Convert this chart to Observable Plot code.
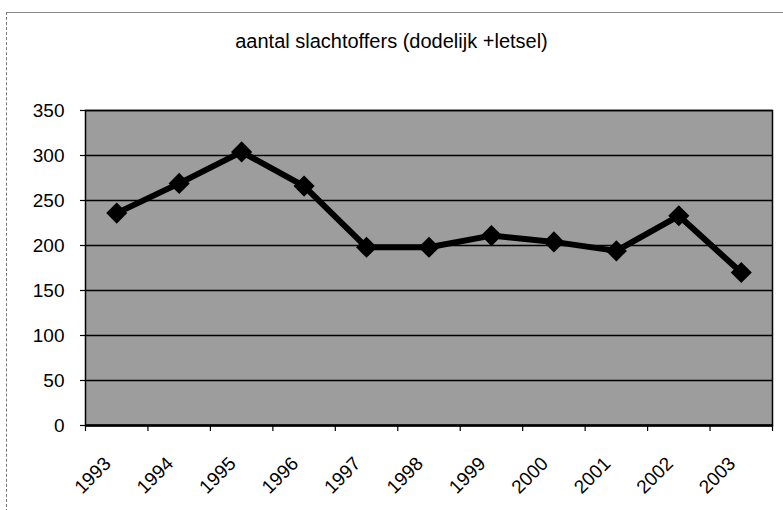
<!DOCTYPE html>
<html>
<head>
<meta charset="utf-8">
<script src="https://cdn.jsdelivr.net/npm/d3@7"></script>
<script src="https://cdn.jsdelivr.net/npm/@observablehq/plot@0.6"></script>
<style>
  html, body { margin: 0; padding: 0; background: #fff; }
  #wrap { position: relative; width: 783px; height: 510px; overflow: hidden; font-family: "Liberation Sans", Arial, sans-serif; }
  #border { position: absolute; left: 6px; top: 12px; right: 0; bottom: -2px; border-top: 1px solid #8a8a8a; border-left: 1px dashed #777; }
  #title { position: absolute; top: 30px; left: 0; width: 783px; text-align: center; font-size: 20px; color: #000; }
  #chart { position: absolute; top: 75px; left: 0; }
</style>
</head>
<body>
<div id="wrap">
  <div id="border"></div>
  <div id="title">aantal slachtoffers (dodelijk +letsel)</div>
  <div id="chart"></div>
</div>
<script>
const years = [1993, 1994, 1995, 1996, 1997, 1998, 1999, 2000, 2001, 2002, 2003];
const victims = [236, 269, 304, 266, 198, 198, 211, 204, 194, 233, 170];
const yTicks = [0, 50, 100, 150, 200, 250, 300, 350];
const bandEdges = [1992.5, 1993.5, 1994.5, 1995.5, 1996.5, 1997.5, 1998.5, 1999.5, 2000.5, 2001.5, 2002.5, 2003.5];

const data = years.map((year, i) => ({year, value: victims[i]}));

const chart = Plot.plot({
  width: 783,
  height: 435,
  marginTop: 35,
  marginBottom: 85,
  marginLeft: 85,
  marginRight: 11,
  style: {fontFamily: "'Liberation Sans', Arial, sans-serif", fontSize: "19px", color: "#000", background: "transparent", overflow: "visible"},
  x: {domain: [1992.5, 2003.5]},
  y: {domain: [0, 350]},
  marks: [
    Plot.frame({fill: "#9d9d9d"}),
    Plot.ruleY(yTicks, {stroke: "#000", strokeWidth: 1.3}),
    Plot.frame({stroke: "#000", strokeWidth: 1.5}),
    Plot.ruleY([0], {stroke: "#000", strokeWidth: 2.5}),
    Plot.axisY({ticks: yTicks, tickSize: 5, tickPadding: 16, label: null, tickFormat: d => String(d), strokeWidth: 1.2}),
    Plot.axisX({ticks: bandEdges, tickSize: 6, tickFormat: () => "", label: null, strokeWidth: 1.2}),
    Plot.axisX({ticks: years, tickSize: 0, tickPadding: 32, dx: -9, dy: 3, tickRotate: -45, tickFormat: d => String(d), label: null}),
    Plot.line(data, {x: "year", y: "value", stroke: "#000", strokeWidth: 6, strokeLinejoin: "round"}),
    Plot.dot(data, {x: "year", y: "value", symbol: "diamond2", r: 9.5, fill: "#000", stroke: "none"})
  ]
});
document.getElementById("chart").appendChild(chart);
</script>
</body>
</html>
